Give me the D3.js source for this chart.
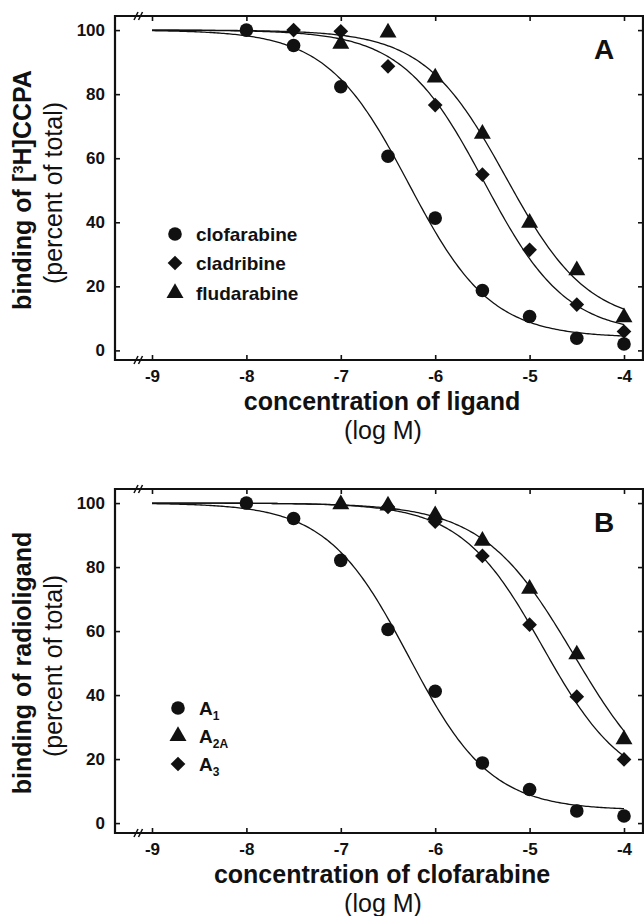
<!DOCTYPE html>
<html>
<head>
<meta charset="utf-8">
<script src="https://cdn.jsdelivr.net/npm/d3@7"></script>
<style>
  html, body { margin: 0; padding: 0; background: #fff; }
  svg { display: block; }
  text { font-family: "Liberation Sans", Arial, Helvetica, sans-serif; fill: #111; }
</style>
</head>
<body>
<svg id="main-svg"></svg>
<script>
// --- data (log M, percent of total) ---
const xTicks = [-9, -8, -7, -6, -5, -4];
const yTicks = [0, 20, 40, 60, 80, 100];

// panel A
const clofarabinePts = [[-8, 100], [-7.5, 95.2], [-7, 82.3], [-6.5, 60.6], [-6, 41.3], [-5.5, 18.7], [-5, 10.6], [-4.5, 3.8], [-4, 2]];
const cladribinePts  = [[-7.5, 100], [-7, 99.6], [-6.5, 88.7], [-6, 76.6], [-5.5, 54.9], [-5, 31.4], [-4.5, 14.3], [-4, 5.9]];
const fludarabinePts = [[-7, 95.7], [-6.5, 99.2], [-6, 85.2], [-5.5, 67.6], [-5, 39.8], [-4.5, 25], [-4, 10.3]];

// panel B
const a1Pts  = [[-8, 100], [-7.5, 95.2], [-7, 82.1], [-6.5, 60.5], [-6, 41.2], [-5.5, 18.8], [-5, 10.5], [-4.5, 3.8], [-4, 2.2]];
const a2aPts = [[-7, 99.6], [-6.5, 99.2], [-6, 96.2], [-5.5, 88.2], [-5, 73.2], [-4.5, 52.7], [-4, 26.2]];
const a3Pts  = [[-6.5, 98.8], [-6, 94.2], [-5.5, 83.5], [-5, 62], [-4.5, 39.5], [-4, 19.9]];

// fitted curves: [top, bottom, logIC50, hill]
const clofarabineFit = [100, 4, -6.28, 1];
const cladribineFit  = [100, 5, -5.48, 1];
const fludarabineFit = [100, 8, -5.25, 1];
const a1Fit  = [100, 4, -6.28, 1];
const a2aFit = [100, 5, -4.53, 0.9];
const a3Fit  = [100, 10, -4.86, 1];

// --- setup ---
const width = 644, height = 916;
const svg = d3.select("#main-svg").attr("width", width).attr("height", height);

const x = d3.scaleLinear().domain([-9, -4]).range([152, 624]);
const frameLeft = 115, frameRight = 643;

const shapes = {
    circle:   d3.symbol().type(d3.symbolCircle).size(145),
    diamond:  d3.symbol().type(d3.symbolSquare).size(108),
    triangle: d3.symbol().type(d3.symbolTriangle).size(125)
};

function logistic(p, lx) {
    const [top, bottom, c, h] = p;
    return bottom + (top - bottom) / (1 + Math.pow(10, h * (lx - c)));
}

function drawMarker(g, kind, cx, cy) {
    g.append("path")
        .attr("d", shapes[kind]())
        .attr("transform", `translate(${cx},${cy})` + (kind === "diamond" ? " rotate(45)" : ""))
        .attr("fill", "#111");
}

function drawPanel(cfg) {
    const y = d3.scaleLinear().domain(cfg.yDomain).range([cfg.bottom, cfg.top]);
    const g = svg.append("g");

    // ticks (all pointing inward)
    const bottomAxis = g.append("g").attr("transform", `translate(0,${cfg.bottom})`)
        .call(d3.axisBottom(x).tickValues(xTicks).tickSize(-5).tickPadding(10).tickFormat(d => String(d)));
    const topAxis = g.append("g").attr("transform", `translate(0,${cfg.top})`)
        .call(d3.axisTop(x).tickValues(xTicks).tickSize(-5).tickFormat(""));
    const leftAxis = g.append("g").attr("transform", `translate(${frameLeft},0)`)
        .call(d3.axisLeft(y).tickValues(yTicks).tickSize(-5).tickPadding(10));
    const rightAxis = g.append("g").attr("transform", `translate(${frameRight},0)`)
        .call(d3.axisRight(y).tickValues(yTicks).tickSize(-5).tickFormat(""));

    [bottomAxis, topAxis, leftAxis, rightAxis].forEach(a => {
        a.select(".domain").remove();
        a.selectAll("line").attr("stroke", "#111").attr("stroke-width", 1.6);
        a.selectAll("text")
            .attr("font-family", '"Liberation Sans", Arial, sans-serif')
            .attr("font-weight", "bold")
            .attr("font-size", 17)
            .attr("fill", "#111");
    });

    // frame
    g.append("path")
        .attr("d", `M${frameLeft},${cfg.top}H${frameRight}V${cfg.bottom}H${frameLeft}Z`)
        .attr("fill", "none")
        .attr("stroke", "#111")
        .attr("stroke-width", 2.2);

    // axis break marks
    [cfg.top, cfg.bottom].forEach(yy => {
        [136, 140.5].forEach(bx => {
            g.append("line")
                .attr("x1", bx - 2).attr("y1", yy + 4)
                .attr("x2", bx + 2).attr("y2", yy - 4)
                .attr("stroke", "#111").attr("stroke-width", 1.6);
        });
    });

    // fitted curves
    const line = d3.line().x(d => x(d[0])).y(d => y(d[1]));
    const grid = d3.range(-9, -3.999, 0.02);
    cfg.series.forEach(s => {
        g.append("path")
            .attr("d", line(grid.map(lx => [lx, logistic(s.fit, lx)])))
            .attr("fill", "none")
            .attr("stroke", "#111")
            .attr("stroke-width", 1.3);
    });

    // data points
    cfg.series.forEach(s => {
        s.pts.forEach(d => drawMarker(g, s.shape, x(d[0]), y(d[1])));
    });

    // legend
    cfg.series.forEach((s, i) => {
        const ly = cfg.legendY[i];
        drawMarker(g, s.shape, cfg.legendX, ly);
        const t = g.append("text")
            .attr("x", cfg.legendX + 21)
            .attr("y", ly + 7)
            .attr("font-weight", "bold")
            .attr("font-size", 19);
        t.append("tspan").text(s.name);
        if (s.sub) {
            t.append("tspan").attr("font-size", 12).attr("dy", 5).text(s.sub);
        }
    });

    // panel letter
    g.append("text")
        .attr("x", 604).attr("y", cfg.top + 43)
        .attr("text-anchor", "middle")
        .attr("font-weight", "bold")
        .attr("font-size", 28)
        .text(cfg.letter);

    // y labels
    const ymid = cfg.top + (cfg.bottom - cfg.top) * 0.5 + 2;
    const yl = g.append("text")
        .attr("transform", `translate(31,${ymid}) rotate(-90)`)
        .attr("text-anchor", "middle")
        .attr("font-weight", "bold")
        .attr("font-size", 25);
    cfg.yTitle.forEach(part => {
        const ts = yl.append("tspan").text(part.t);
        if (part.sup) ts.attr("font-size", 15).attr("baseline-shift", "super");
    });
    g.append("text")
        .attr("transform", `translate(62,${ymid + 3}) rotate(-90)`)
        .attr("text-anchor", "middle")
        .attr("font-size", 25)
        .text("(percent of total)");

    // x labels
    g.append("text")
        .attr("x", 382).attr("y", cfg.bottom + 50)
        .attr("text-anchor", "middle")
        .attr("font-weight", "bold")
        .attr("font-size", 25)
        .text(cfg.xTitle);
    g.append("text")
        .attr("x", 383).attr("y", cfg.bottom + 79)
        .attr("text-anchor", "middle")
        .attr("font-size", 25)
        .text("(log M)");
}

drawPanel({
    top: 16, bottom: 360, yDomain: [-3.0, 104.4],
    letter: "A",
    xTitle: "concentration of ligand",
    yTitle: [{t: "binding of ["}, {t: "3", sup: true}, {t: "H]CCPA"}],
    legendX: 175, legendY: [234, 263, 293],
    series: [
        {name: "clofarabine", shape: "circle",   pts: clofarabinePts, fit: clofarabineFit},
        {name: "cladribine",  shape: "diamond",  pts: cladribinePts,  fit: cladribineFit},
        {name: "fludarabine", shape: "triangle", pts: fludarabinePts, fit: fludarabineFit}
    ]
});

drawPanel({
    top: 489, bottom: 833, yDomain: [-3.1, 104.4],
    letter: "B",
    xTitle: "concentration of clofarabine",
    yTitle: [{t: "binding of radioligand"}],
    legendX: 178, legendY: [708, 736, 764],
    series: [
        {name: "A", sub: "1",  shape: "circle",   pts: a1Pts,  fit: a1Fit},
        {name: "A", sub: "2A", shape: "triangle", pts: a2aPts, fit: a2aFit},
        {name: "A", sub: "3",  shape: "diamond",  pts: a3Pts,  fit: a3Fit}
    ]
});
</script>
</body>
</html>
